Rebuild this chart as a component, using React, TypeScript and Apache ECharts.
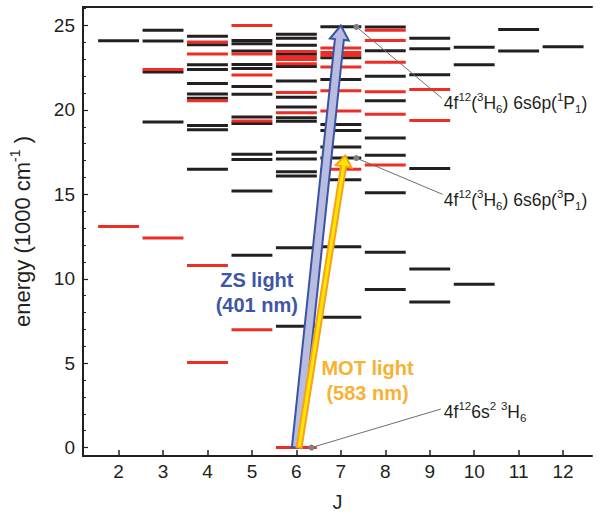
import React, { useEffect, useRef } from 'react';
import * as echarts from 'echarts';

// ---------- data ----------
const J_VALUES = [2, 3, 4, 5, 6, 7, 8, 9, 10, 11, 12];
const Y_MAJOR = [0, 5, 10, 15, 20, 25];
const Y_MINOR = [0, 1, 2, 3, 4, 5, 6, 7, 8, 9, 10, 11, 12, 13, 14, 15, 16, 17, 18, 19, 20, 21, 22, 23, 24, 25, 26];

// energy levels (1000 cm^-1) per J, odd parity (black) / even parity (red)
const BLACK_LEVELS: number[][] = [
  [24.1],
  [24.72, 24.08, 22.25, 19.29],
  [24.37, 23.86, 22.68, 22.39, 21.57, 20.95, 20.69, 19.08, 18.83, 16.49],
  [24.12, 23.92, 23.5, 22.7, 22.46, 21.39, 20.93, 19.58, 19.2, 17.37, 17.06, 15.2, 11.4],
  [24.48, 24.25, 23.84, 23.3, 22.58, 21.72, 20.75, 20.17, 19.54, 19.33, 17.49, 17.09, 16.34, 16.09, 11.84, 7.19],
  [24.93, 23.09, 21.8, 19.14, 18.79, 17.81, 17.15, 15.87, 11.9, 7.72],
  [24.91, 23.51, 22.0, 20.55, 18.34, 17.31, 15.09, 11.57, 9.37],
  [24.25, 23.63, 22.09, 16.53, 10.58, 8.63],
  [23.71, 22.68, 9.67],
  [24.76, 23.49],
  [23.75],
];
const RED_LEVELS: number[][] = [
  [13.1],
  [22.4, 12.41],
  [24.02, 23.32, 20.54, 10.78, 5.04],
  [25.0, 23.32, 22.07, 19.35, 6.98],
  [23.47, 23.14, 22.99, 22.74, 21.04, 19.84, 0],
  [23.67, 23.41, 23.24, 22.54, 21.14, 19.94, 16.49],
  [24.72, 24.11, 22.83, 21.08, 19.74, 16.74],
  [21.21, 19.37],
  [],
  [],
  [],
];

// transitions: [J start, E start, J end, E end]
const ZS_ARROW = [6.0, 0, 7.0, 25.0];
const MOT_ARROW = [6.06, 0, 7.1, 17.3];

// leader lines: [J dot, E dot, J end, E end]
const LEADERS = [
  [7.35, 24.92, 9.27, 20.71],
  [7.35, 17.15, 9.29, 15.0],
  [6.34, 0, 9.25, 2.28],
];
const STATE_POS = [
  [9.317, 20.42],
  [9.317, 14.64],
  [9.317, 2.08],
];
const STATE_TEXTS = [
  '{n|4f}{p|12}{n|(}{p|3}{n|H}{b|6}{n|) 6s6p(}{p|1}{n|P}{b|1}{n|)}',
  '{n|4f}{p|12}{n|(}{p|3}{n|H}{b|6}{n|) 6s6p(}{p|3}{n|P}{b|1}{n|)}',
  '{n|4f}{p|12}{n|6s}{p|2}{n| }{p|3}{n|H}{b|6}',
];
const ZS_TEXT_POS = [5.11, 9.2];
const MOT_TEXT_POS = [7.6, 4.0];

// ---------- styles ----------
const FONT = '"Liberation Sans", Arial, Helvetica, sans-serif';
const INK = '#231f20';
const RED = '#ee2d24';
const HALF = 0.46;

const stateRich = {
  n: { fontSize: 17.5, fontFamily: FONT, lineHeight: 24, verticalAlign: 'middle', fill: INK, color: INK },
  p: { fontSize: 11.5, fontFamily: FONT, lineHeight: 16, verticalAlign: 'top', fill: INK, color: INK },
  b: { fontSize: 11.5, fontFamily: FONT, lineHeight: 8, verticalAlign: 'bottom', fill: INK, color: INK },
};

function arrowPoints(p0: number[], p1: number[], shaftW: number, headW: number, headL: number) {
  const dx = p1[0] - p0[0];
  const dy = p1[1] - p0[1];
  const L = Math.hypot(dx, dy);
  const ux = dx / L, uy = dy / L;
  const nx = -uy, ny = ux;
  const bx = p1[0] - ux * headL, by = p1[1] - uy * headL;
  return [
    [p0[0] + (nx * shaftW) / 2, p0[1] + (ny * shaftW) / 2],
    [bx + (nx * shaftW) / 2, by + (ny * shaftW) / 2],
    [bx + (nx * headW) / 2, by + (ny * headW) / 2],
    [p1[0], p1[1]],
    [bx - (nx * headW) / 2, by - (ny * headW) / 2],
    [bx - (nx * shaftW) / 2, by - (ny * shaftW) / 2],
    [p0[0] - (nx * shaftW) / 2, p0[1] - (ny * shaftW) / 2],
  ];
}

function levelSeries(levels: number[][], color: string) {
  const data = J_VALUES.flatMap((j, i) => levels[i].map((e) => [j, e]));
  return {
    type: 'custom',
    coordinateSystem: 'cartesian2d',
    data,
    silent: true,
    z: 2,
    renderItem: (_p: any, api: any) => {
      const j = api.value(0);
      const e = api.value(1);
      const a = api.coord([j - HALF, e]);
      const b = api.coord([j + HALF, e]);
      return {
        type: 'line',
        shape: { x1: a[0], y1: a[1], x2: b[0], y2: b[1] },
        style: { stroke: color, lineWidth: 3 },
      };
    },
  };
}

function arrowSeries(arrow: number[], fill: string, stroke: string, shaftW: number, headW: number, headL: number, z: number) {
  return {
    type: 'custom',
    coordinateSystem: 'cartesian2d',
    data: [arrow],
    encode: { x: [0, 2], y: [1, 3] },
    silent: true,
    z,
    renderItem: (_p: any, api: any) => {
      const p0 = api.coord([api.value(0), api.value(1)]);
      const p1 = api.coord([api.value(2), api.value(3)]);
      return {
        type: 'polygon',
        shape: { points: arrowPoints(p0, p1, shaftW, headW, headL) },
        style: { fill, stroke, lineWidth: 2, lineJoin: 'miter' },
      };
    },
  };
}

function buildOption() {
  const xCommon = { type: 'value', min: 1.2, max: 12.65 };
  const yCommon = { type: 'value', min: -0.5, max: 26.1 };
  return {
    animation: false,
    backgroundColor: '#ffffff',
    grid: { left: 80, top: 7, right: 11, bottom: 54 },
    xAxis: [
      {
        ...xCommon,
        position: 'bottom',
        axisLine: { show: true, onZero: false, lineStyle: { color: INK, width: 2 } },
        axisTick: { show: true, inside: true, length: 6, customValues: J_VALUES, lineStyle: { color: INK, width: 1.5 } },
        axisLabel: { customValues: J_VALUES, fontSize: 19, color: INK, fontFamily: FONT, margin: 6 },
        splitLine: { show: false },
        name: 'J',
        nameLocation: 'middle',
        nameGap: 36,
        nameTextStyle: { fontSize: 20, color: INK, fontFamily: FONT },
      },
      {
        ...xCommon,
        position: 'top',
        axisLine: { show: true, onZero: false, lineStyle: { color: INK, width: 2 } },
        axisTick: { show: false },
        axisLabel: { show: false },
        splitLine: { show: false },
      },
    ],
    yAxis: [
      {
        ...yCommon,
        position: 'left',
        axisLine: { show: true, onZero: false, lineStyle: { color: INK, width: 2 } },
        axisTick: { show: true, inside: true, length: 3, customValues: Y_MINOR, lineStyle: { color: INK, width: 1 } },
        axisLabel: { customValues: Y_MAJOR, fontSize: 19, color: INK, fontFamily: FONT, margin: 8 },
        splitLine: { show: false },
        name: '{a|energy (1000 cm}{s|-1}{a| )}',
        nameLocation: 'middle',
        nameRotate: 90,
        nameGap: 47,
        nameTextStyle: {
          rich: {
            a: { fontSize: 22, fontFamily: FONT, color: INK, lineHeight: 28, verticalAlign: 'middle' },
            s: { fontSize: 14, fontFamily: FONT, color: INK, lineHeight: 18, verticalAlign: 'top' },
          },
        },
      },
      {
        ...yCommon,
        position: 'left',
        axisLine: { show: false, onZero: false },
        axisTick: { show: true, inside: true, length: 5, customValues: Y_MAJOR, lineStyle: { color: INK, width: 1.2 } },
        axisLabel: { show: false },
        splitLine: { show: false },
      },
    ],
    series: [
      levelSeries(BLACK_LEVELS, INK),
      levelSeries(RED_LEVELS, RED),
      arrowSeries(ZS_ARROW, '#b8bce0', '#3a53a4', 9, 19, 14, 5),
      arrowSeries(MOT_ARROW, '#ffe600', '#f6a21c', 5, 16, 11, 6),
      {
        type: 'custom',
        coordinateSystem: 'cartesian2d',
        data: LEADERS,
        encode: { x: [0, 2], y: [1, 3] },
        silent: true,
        z: 7,
        renderItem: (_p: any, api: any) => {
          const a = api.coord([api.value(0), api.value(1)]);
          const b = api.coord([api.value(2), api.value(3)]);
          return {
            type: 'group',
            children: [
              { type: 'line', shape: { x1: a[0], y1: a[1], x2: b[0], y2: b[1] }, style: { stroke: '#6f6f6f', lineWidth: 1 } },
              { type: 'circle', shape: { cx: a[0], cy: a[1], r: 3 }, style: { fill: '#808080' } },
            ],
          };
        },
      },
      {
        type: 'custom',
        coordinateSystem: 'cartesian2d',
        data: STATE_POS.map((p, i) => [p[0], p[1], i]),
        silent: true,
        z: 8,
        renderItem: (_p: any, api: any) => {
          const c = api.coord([api.value(0), api.value(1)]);
          const i = api.value(2);
          return {
            type: 'text',
            x: c[0],
            y: c[1],
            style: {
              text: STATE_TEXTS[i],
              rich: stateRich,
              align: 'left',
              verticalAlign: 'middle',
              fill: INK,
              fontFamily: FONT,
              fontSize: 17.5,
            },
          };
        },
      },
      {
        type: 'custom',
        coordinateSystem: 'cartesian2d',
        data: [
          [ZS_TEXT_POS[0], ZS_TEXT_POS[1], 0],
          [MOT_TEXT_POS[0], MOT_TEXT_POS[1], 1],
        ],
        silent: true,
        z: 8,
        renderItem: (_p: any, api: any) => {
          const c = api.coord([api.value(0), api.value(1)]);
          const i = api.value(2);
          return {
            type: 'text',
            x: c[0],
            y: c[1],
            style: {
              text: i === 0 ? 'ZS light\n(401 nm)' : 'MOT light\n(583 nm)',
              fill: i === 0 ? '#3d56a6' : '#f8b133',
              fontFamily: FONT,
              fontSize: 20,
              fontWeight: 'bold',
              lineHeight: 25,
              align: 'center',
              verticalAlign: 'middle',
            },
          };
        },
      },
    ],
  };
}

export default function App() {
  const ref = useRef<HTMLDivElement>(null);
  useEffect(() => {
    document.body.style.margin = '0';
    const chart = echarts.init(ref.current as HTMLDivElement, null, { renderer: 'svg' });
    chart.setOption(buildOption() as any);
    return () => chart.dispose();
  }, []);
  return <div ref={ref} style={{ width: 603, height: 517 }} />;
}
